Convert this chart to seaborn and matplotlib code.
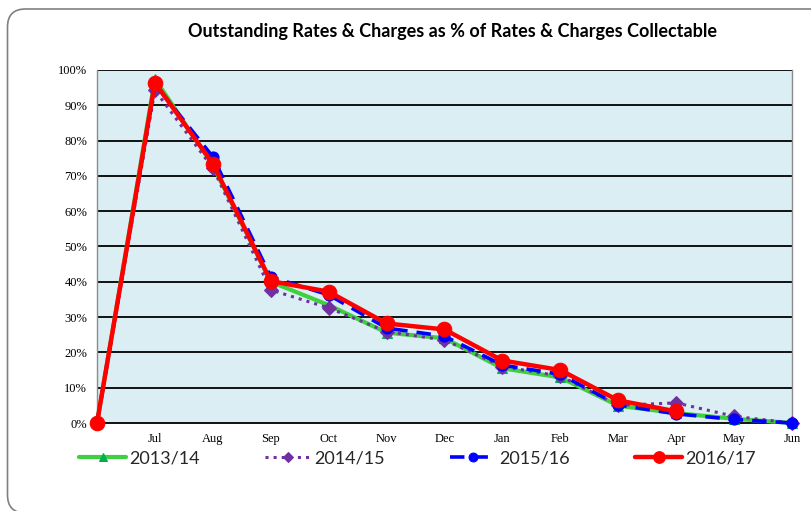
import numpy as np
import pandas as pd
import matplotlib
matplotlib.use("Agg")
import matplotlib.pyplot as plt
from matplotlib.patches import FancyBboxPatch
from matplotlib.transforms import IdentityTransform
import seaborn as sns

# ---- data ----
months = ["", "Jul", "Aug", "Sep", "Oct", "Nov", "Dec", "Jan", "Feb", "Mar", "Apr", "May", "Jun"]
s2013_14 = [0, 97.5, 73.0, 40.0, 33.4, 25.6, 24.0, 15.5, 12.9, 4.9, 2.8, 1.2, 0.0]
s2014_15 = [0, 94.3, 72.2, 37.7, 32.6, 25.9, 23.5, 16.0, 13.3, 5.0, 5.7, 1.9, 0.0]
s2015_16 = [0, 96.0, 75.4, 41.4, 36.3, 26.9, 24.6, 16.4, 13.8, 5.1, 2.6, 1.0, 0.0]
s2016_17 = [0, 96.4, 73.5, 40.2, 37.2, 28.2, 26.5, 17.7, 15.0, 6.4, 3.3]
series_names = ["2013/14", "2014/15", "2015/16", "2016/17"]
y_ticks = [0, 10, 20, 30, 40, 50, 60, 70, 80, 90, 100]
y_tick_labels = [f"{v}%" for v in y_ticks]

sns.set_theme(style="white")
plt.rcParams["font.family"] = ["Liberation Serif", "DejaVu Serif"]

fig = plt.figure(figsize=(8.12, 5.11), dpi=100)
fig.patch.set_facecolor("white")

# outer rounded chart border (pixel coordinates)
border = FancyBboxPatch((7.5, -2), 900, 511 - 9 + 2,
                        boxstyle="round,pad=0,rounding_size=18",
                        transform=IdentityTransform(), facecolor="none",
                        edgecolor="#808080", linewidth=1.2)
fig.patches.append(border)

ax = fig.add_axes([97 / 812, 1 - 423 / 511, 695 / 812, 353 / 511])
ax.set_facecolor("#daeef3")

styles = {
    "2013/14": dict(color="#3fcf3f", mfc="#00b050", marker="^", linestyle="-", linewidth=3.0, markersize=7),
    "2014/15": dict(color="#7030a0", mfc="#7030a0", marker="D", linestyle=":", linewidth=2.2, markersize=7),
    "2015/16": dict(color="#0000ff", mfc="#0000ff", marker="o", linestyle=(0, (4, 2.5)), linewidth=2.6, markersize=8),
    "2016/17": dict(color="#ff0000", mfc="#ff0000", marker="o", linestyle="-", linewidth=3.2, markersize=10.5),
}
all_vals = [s2013_14, s2014_15, s2015_16, s2016_17]

for name, vals in zip(series_names, all_vals):
    st = styles[name]
    xs = np.arange(len(vals))
    sns.lineplot(x=xs, y=vals, ax=ax, color=st["color"], marker=st["marker"],
                 markersize=st["markersize"], linewidth=st["linewidth"],
                 linestyle=st["linestyle"], markeredgecolor=st["mfc"],
                 markerfacecolor=st["mfc"], label=name, zorder=3, clip_on=False)

ax.set_xlim(0, len(months) - 1)
ax.set_ylim(0, 100)
ax.set_xticks(np.arange(len(months)))
ax.set_xticklabels(months, fontsize=9)
ax.set_yticks(y_ticks)
ax.set_yticklabels(y_tick_labels, fontsize=9)
ax.grid(False)
for v in y_ticks[1:]:
    ax.axhline(v, color="black", linewidth=1.3, zorder=1)

ax.spines["top"].set_visible(False)
ax.spines["right"].set_color("#8c8c8c")
ax.spines["right"].set_linewidth(1.0)
ax.spines["left"].set_color("#8c8c8c")
ax.spines["left"].set_linewidth(1.0)
ax.spines["bottom"].set_color("black")
ax.spines["bottom"].set_linewidth(1.3)
ax.tick_params(axis="x", direction="out", length=5, width=1, color="black", pad=2, labelcolor="black")
ax.tick_params(axis="y", direction="out", length=4, width=1, color="#8c8c8c", pad=3, labelcolor="black")
ax.set_xlabel("")
ax.set_ylabel("")

leg = ax.legend(loc="upper left", bbox_to_anchor=(-25 / 695, -0.057), ncol=4,
                frameon=False, handlelength=2.6, handletextpad=0.15,
                columnspacing=3.6, borderaxespad=0, markerscale=0.8,
                prop={"family": ["Lato", "DejaVu Sans"], "size": 13})

fig.text(453 / 812, 1 - 31 / 511,
         "Outstanding Rates & Charges as % of Rates & Charges Collectable",
         ha="center", va="center", fontsize=13, fontweight="bold",
         family=["Lato", "DejaVu Sans"], color="black")

fig.savefig("out.png", dpi=100)
